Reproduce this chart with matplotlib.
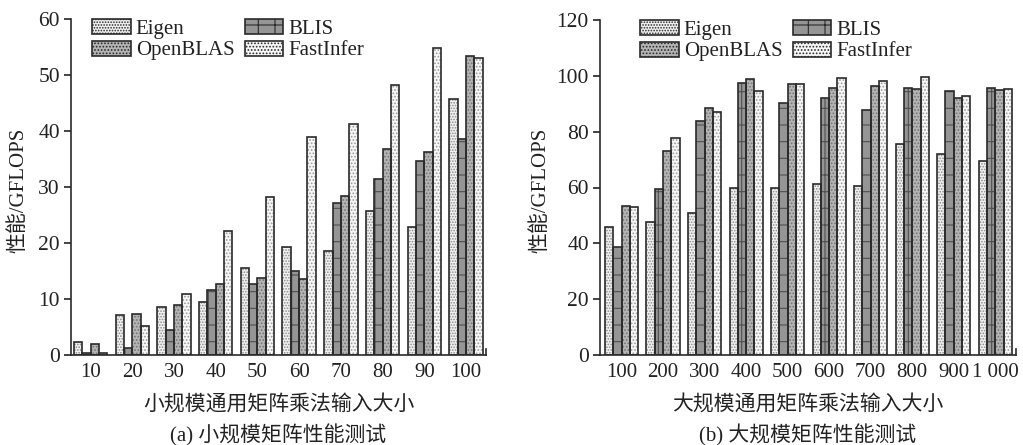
import matplotlib
matplotlib.use("Agg")
import matplotlib.pyplot as plt
import matplotlib.patches as mpatches
import numpy as np

plt.rcParams['font.family'] = ['Liberation Serif', 'Noto Sans CJK SC']
plt.rcParams['hatch.linewidth'] = 0.8

series = ["Eigen", "BLIS", "OpenBLAS", "FastInfer"]

small_sizes = ["10", "20", "30", "40", "50", "60", "70", "80", "90", "100"]
small_eigen = [2.3, 7.1, 8.5, 9.4, 15.6, 19.2, 18.5, 25.8, 22.8, 45.7]
small_blis = [0.3, 1.2, 4.5, 11.6, 12.6, 15.0, 27.2, 31.4, 34.6, 38.6]
small_openblas = [1.9, 7.3, 8.9, 12.6, 13.7, 13.6, 28.4, 36.8, 36.3, 53.4]
small_fastinfer = [0.4, 5.1, 10.9, 22.1, 28.2, 38.9, 41.3, 48.2, 54.8, 53.1]

large_sizes = ["100", "200", "300", "400", "500", "600", "700", "800", "900", "1 000"]
large_eigen = [45.7, 47.8, 51.0, 59.8, 60.0, 61.2, 60.7, 75.5, 72.1, 69.4]
large_blis = [38.6, 59.5, 83.9, 97.4, 90.4, 92.2, 87.8, 95.8, 94.7, 95.8]
large_openblas = [53.4, 73.1, 88.4, 98.9, 96.9, 95.8, 96.4, 95.3, 91.9, 95.0]
large_fastinfer = [53.1, 77.9, 87.0, 94.6, 96.9, 99.4, 98.3, 99.5, 92.9, 95.4]

styles = [
    dict(face='#f0f0f0', hatch='......', hcolor='#8a8a8a'),
    dict(face='#959595', hatch='+', hcolor='#505050'),
    dict(face='#b4b4b4', hatch='.....', hcolor='#747474'),
    dict(face='#f6f6f6', hatch='.....', hcolor='#9a9a9a'),
]
EDGE = '#2a2a2a'
TXT = '#222222'

fig = plt.figure(figsize=(10.23, 4.45), dpi=100)

def px(x, y):
    return (x / 1023.0, 1 - y / 445.0)

def draw(rect, sizes, data, ymax, yticks, xlim, xlabel, caption, leg_xy, ylab_x):
    ax = fig.add_axes(rect)
    n = len(sizes)
    idx = np.arange(n)
    w = 0.2
    for k, (vals, st) in enumerate(zip(data, styles)):
        xs = idx - 0.3 + k * w
        ax.bar(xs, vals, width=w, color=st['face'], hatch=st['hatch'],
               edgecolor=st['hcolor'], linewidth=0, zorder=2)
        ax.bar(xs, vals, width=w, fill=False, edgecolor=EDGE, linewidth=1.2,
               zorder=3)
    ax.set_xlim(*xlim)
    ax.set_ylim(0, ymax)
    ax.set_yticks(yticks)
    ax.set_xticks(idx)
    ax.set_xticklabels(sizes)
    for s in ['top', 'right']:
        ax.spines[s].set_visible(False)
    for s in ['left', 'bottom']:
        ax.spines[s].set_linewidth(1.2)
        ax.spines[s].set_color(EDGE)
    ax.tick_params(axis='x', length=0, pad=6, labelsize=15, colors=TXT)
    ax.tick_params(axis='y', length=5, width=1.2, direction='out', pad=3,
                   labelsize=15.5, colors=TXT)
    ax.plot([1, 1], [0, 0.018], transform=ax.transAxes, color=EDGE,
            lw=1.2, clip_on=False)
    cx = rect[0] + rect[2] / 2
    fig.text(ylab_x / 1023.0, 1 - 190 / 445.0, "性能/GFLOPS", rotation=90,
             ha='center', va='center', fontsize=15, color=TXT)
    fig.text(cx, 1 - 405 / 445.0, xlabel, ha='center', va='center',
             fontsize=15, color=TXT)
    fig.text(cx, 1 - 435 / 445.0, caption, ha='center', va='center',
             fontsize=15, color=TXT)
    handles = []
    for k, st in enumerate(styles):
        handles.append(mpatches.Patch(facecolor=st['face'], hatch=st['hatch'],
                                      edgecolor=EDGE, linewidth=1.2))
    order = [0, 2, 1, 3]
    leg = ax.legend([handles[i] for i in order], [series[i] for i in order],
                    ncol=2, frameon=False, loc='upper left',
                    bbox_to_anchor=px(*leg_xy), bbox_transform=fig.transFigure,
                    borderpad=0, borderaxespad=0, handlelength=1.85,
                    handleheight=0.75, handletextpad=0.25, labelspacing=0.08,
                    columnspacing=0.5, fontsize=15)
    for t in leg.get_texts():
        t.set_color(TXT)
    return ax

ax1 = draw([71 / 1023, 1 - 355 / 445, (486 - 71) / 1023, (355 - 19) / 445],
           small_sizes, [small_eigen, small_blis, small_openblas, small_fastinfer],
           60, [0, 10, 20, 30, 40, 50, 60], (-0.47, 9.48),
           "小规模通用矩阵乘法输入大小", "(a) 小规模矩阵性能测试", (92, 19), 19)
ax2 = draw([600 / 1023, 1 - 355 / 445, (1016 - 600) / 1023, (355 - 20) / 445],
           large_sizes, [large_eigen, large_blis, large_openblas, large_fastinfer],
           120, [0, 20, 40, 60, 80, 100, 120], (-0.52, 9.5),
           "大规模通用矩阵乘法输入大小", "(b) 大规模矩阵性能测试", (640, 20), 541)

fig.savefig("out.png", dpi=100)
